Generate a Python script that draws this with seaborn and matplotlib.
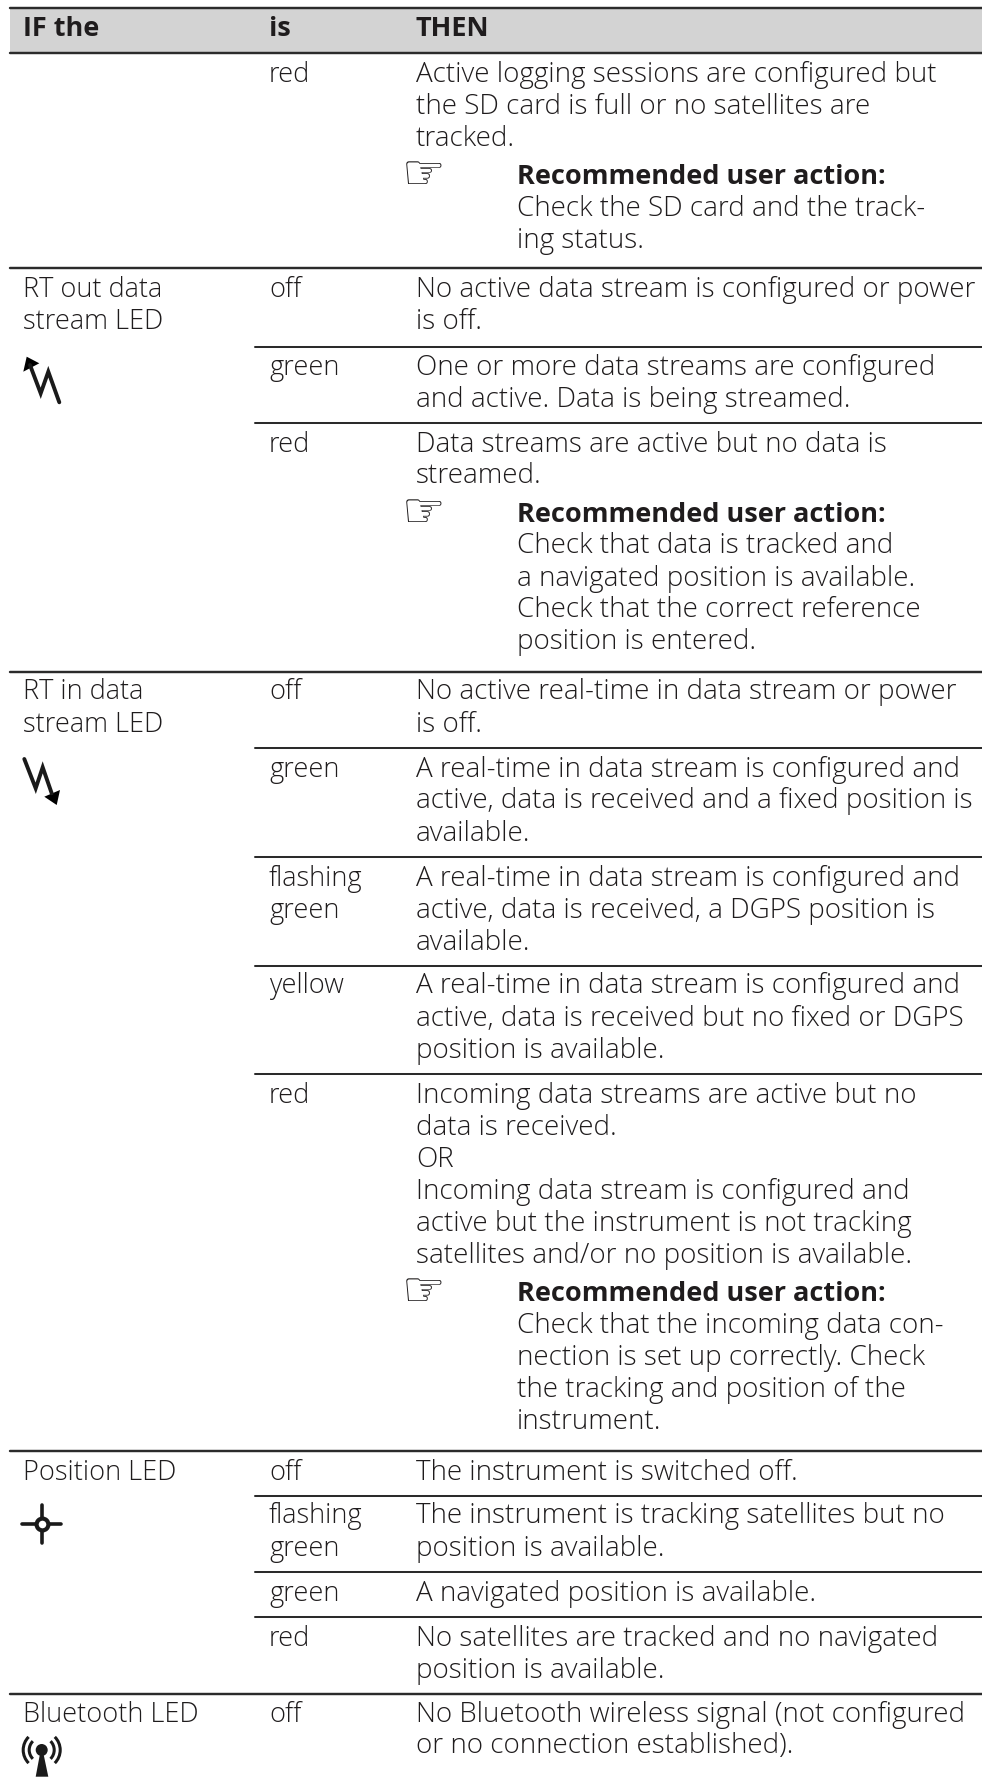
import pandas as pd
import seaborn as sns
import matplotlib.pyplot as plt
from matplotlib.patches import Arc, Circle, Polygon

# column contents, line by line
header_labels = ["IF the", "is", "THEN"]

led_labels = ["RT out data", "stream LED", "RT in data", "stream LED", "Position LED", "Bluetooth LED"]
led_base = [297.3, 329.3, 699.3, 731.5, 1480, 1721.7]

state_labels = ["red", "off", "green", "red", "off", "green", "flashing", "green", "yellow", "red",
                "off", "flashing", "green", "green", "red", "off"]
state_base = [81.7, 297.3, 375, 451.7, 699.3, 776.7, 885.7, 917.7, 993.3, 1102.7,
              1480, 1523.3, 1555.7, 1601, 1645.7, 1721.7]

then_lines = [
    "Active logging sessions are configured but",
    "the SD card is full or no satellites are",
    "tracked.",
    "No active data stream is configured or power",
    "is off.",
    "One or more data streams are configured",
    "and active. Data is being streamed.",
    "Data streams are active but no data is",
    "streamed.",
    "No active real-time in data stream or power",
    "is off.",
    "A real-time in data stream is configured and",
    "active, data is received and a fixed position is",
    "available.",
    "A real-time in data stream is configured and",
    "active, data is received, a DGPS position is",
    "available.",
    "A real-time in data stream is configured and",
    "active, data is received but no fixed or DGPS",
    "position is available.",
    "Incoming data streams are active but no",
    "data is received.",
    "OR",
    "Incoming data stream is configured and",
    "active but the instrument is not tracking",
    "satellites and/or no position is available.",
    "The instrument is switched off.",
    "The instrument is tracking satellites but no",
    "position is available.",
    "A navigated position is available.",
    "No satellites are tracked and no navigated",
    "position is available.",
    "No Bluetooth wireless signal (not configured",
    "or no connection established).",
]
then_base = [81.7, 113.5, 145.7, 297.3, 329.3, 375, 406.7, 451.7, 483.3,
             699.3, 731.5, 776.7, 808.3, 840.7, 885.7, 917.7, 950,
             993.3, 1026, 1058.3, 1102.7, 1135, 1166.7, 1199, 1231, 1263.3,
             1480, 1523.3, 1555.7, 1601, 1645.7, 1677.7, 1721.7, 1753.3]

action_title = "Recommended user action:"
action_title_base = [184, 521.7, 1301]
action_lines = [
    "Check the SD card and the track-",
    "ing status.",
    "Check that data is tracked and",
    "a navigated position is available.",
    "Check that the correct reference",
    "position is entered.",
    "Check that the incoming data con-",
    "nection is set up correctly. Check",
    "the tracking and position of the",
    "instrument.",
]
action_base = [215.7, 247.7, 553.3, 585.7, 617.3, 649.3, 1332.7, 1365, 1396.7, 1429]

major_rules = [8, 52.7, 268, 671.7, 1450.7, 1694]
minor_rules = [346.7, 422.7, 748, 856.7, 965.7, 1074, 1495.7, 1572.3, 1617]

sns.set_theme(style="white")
plt.rcParams["font.family"] = ["Open Sans", "DejaVu Sans"]

ink = "#1f1c1d"

fig, ax = plt.subplots(figsize=(9.82, 17.85), dpi=100)
ax.set_position([0, 0, 1, 1])

ax.fill_between([10, 982], 8, 52.7, color="#d3d3d3", lw=0, zorder=0)

# rules: long ones span the whole table, short ones only the two right columns
rows = []
for i, y in enumerate(major_rules):
    rows += [{"rule": i, "x": 10, "y": y}, {"rule": i, "x": 982, "y": y}]
sns.lineplot(data=pd.DataFrame(rows), x="x", y="y", units="rule", estimator=None,
             color="#2b2b2b", lw=1.75, ax=ax, sort=False)
rows = []
for i, y in enumerate(minor_rules):
    rows += [{"rule": i, "x": 255, "y": y}, {"rule": i, "x": 982, "y": y}]
sns.lineplot(data=pd.DataFrame(rows), x="x", y="y", units="rule", estimator=None,
             color="#2b2b2b", lw=1.45, ax=ax, sort=False)
ax.set_xlim(0, 982)
ax.set_ylim(1785, 0)
ax.axis("off")


def put(x, y, s, size, **kw):
    ax.text(x, y, s, fontsize=size, color=ink, va="baseline", ha="left", **kw)


for x, s in zip([23, 269, 416], header_labels):
    put(x, 36, s, 19.5, weight="bold")
for s, y in zip(led_labels, led_base):
    put(23, y, s, 19.5, weight="light")
for s, y in zip(state_labels, state_base):
    put(269, y, s, 19.5, weight="light")
for s, y in zip(then_lines, then_base):
    put(416, y, s, 20, weight="light")
for s, y in zip(action_lines, action_base):
    put(517, y, s, 20, weight="light")
for y in action_title_base:
    put(517, y, action_title, 19.5, weight="bold")
    ax.text(402, y + 5, "\u261e", fontsize=35, color=ink, family="DejaVu Sans", va="baseline", ha="left")

# LED icons
ax.plot([59.3, 48.3, 40.7, 30], [402.3, 371.7, 393.3, 365], color="#1a1a1a", lw=2.8, solid_joinstyle="miter")
ax.add_patch(Polygon([(26.7, 356.7), (39.3, 363.3), (23.3, 371.7)], color="black", lw=0))
ax.plot([24.3, 35.7, 42.7, 51.7], [759, 788.3, 767.3, 793.3], color="#1a1a1a", lw=2.8, solid_joinstyle="miter")
ax.add_patch(Polygon([(60, 790), (56.7, 805), (44.3, 796.7)], color="black", lw=0))

ax.plot([22.3, 61], [1524, 1524], color="#1a1a1a", lw=2.6)
ax.plot([41.7, 41.7], [1505, 1543.3], color="#1a1a1a", lw=2.6)
ax.plot([41.7], [1524], marker="o", ms=8.5, mfc="white", mec="#1a1a1a", mew=3)

ax.add_patch(Polygon([(35.7, 1776.7), (48.3, 1776.7), (42.7, 1750), (40.7, 1750)], color="#1a1a1a", lw=0))
ax.add_patch(Circle((41.7, 1750), 6, color="#1a1a1a", lw=0))
for r in [12.5, 18.5]:
    ax.add_patch(Arc((41.7, 1750), 2 * r, 2 * r, theta1=135, theta2=225, color="#1a1a1a", lw=2.2))
    ax.add_patch(Arc((41.7, 1750), 2 * r, 2 * r, theta1=-45, theta2=45, color="#1a1a1a", lw=2.2))

fig.savefig("out.png", dpi=100)
